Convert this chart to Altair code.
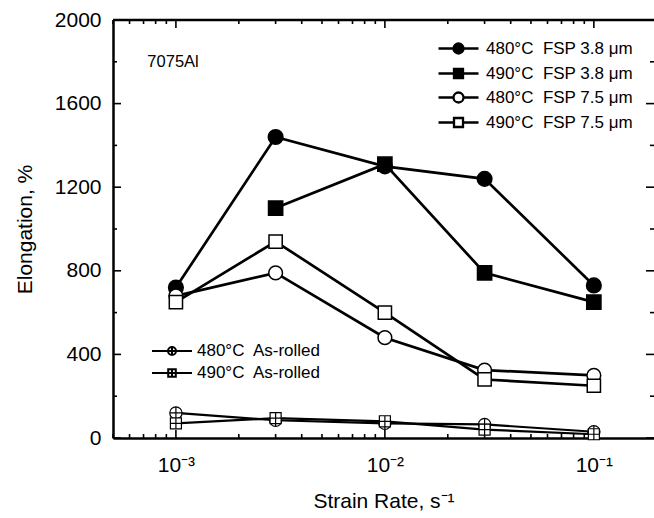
import altair as alt
import pandas as pd

# ---------------- data ----------------
rates = [0.001, 0.003, 0.01, 0.03, 0.1]

fsp_names = ["480°C\u00a0 FSP 3.8 μm", "490°C\u00a0 FSP 3.8 μm",
             "480°C\u00a0 FSP 7.5 μm", "490°C\u00a0 FSP 7.5 μm"]
ar_names = ["480°C\u00a0 As-rolled", "490°C\u00a0 As-rolled"]

e480_fsp38 = [720, 1440, 1300, 1240, 730]
e490_fsp38 = [None, 1100, 1310, 790, 650]
e480_fsp75 = [680, 790, 480, 325, 300]
e490_fsp75 = [650, 940, 600, 280, 250]
e480_ar = [120, 85, 70, 65, 30]
e490_ar = [70, 95, 80, 40, 18]

x_major = [0.001, 0.01, 0.1]
x_minor = [5e-4, 6e-4, 7e-4, 8e-4, 9e-4,
           2e-3, 3e-3, 4e-3, 5e-3, 6e-3, 7e-3, 8e-3, 9e-3,
           2e-2, 3e-2, 4e-2, 5e-2, 6e-2, 7e-2, 8e-2, 9e-2]
y_major = [0, 400, 800, 1200, 1600, 2000]
y_minor = [200, 600, 1000, 1400, 1800]
x_domain = [5e-4, 0.194]
y_domain = [0, 2000]

note_text = ["7075Al"]
note_rate = [7.3e-4]
note_elong = [1800]


def long_table(names, series):
    rows = []
    for name, vals in zip(names, series):
        for r, v in zip(rates, vals):
            if v is not None:
                rows.append({"series": name, "rate": r, "elong": v})
    return pd.DataFrame(rows)


fsp_df = long_table(fsp_names, [e480_fsp38, e490_fsp38, e480_fsp75, e490_fsp75])
ar_df = long_table(ar_names, [e480_ar, e490_ar])

# ---------------- styling ----------------
FONT = "Liberation Sans"
W, H = 541, 418
MAJ, MIN = 8, 4

X = alt.X("rate:Q",
          scale=alt.Scale(type="log", domain=x_domain, nice=False),
          axis=alt.Axis(values=x_major, ticks=False, grid=False,
                        labelExpr="datum.value < 0.005 ? '10⁻³' : (datum.value < 0.05 ? '10⁻²' : '10⁻¹')",
                        labelPadding=16, labelFontSize=21, labelFont=FONT, labelColor="black",
                        domainColor="black", domainWidth=2.5,
                        title="Strain Rate, s⁻¹", titleFontSize=21, titleFont=FONT,
                        titleFontWeight="normal", titleColor="black", titlePadding=15))
Y = alt.Y("elong:Q",
          scale=alt.Scale(domain=y_domain, nice=False),
          axis=alt.Axis(values=y_major, format="d", ticks=False, grid=False,
                        labelPadding=12, labelFontSize=21, labelFont=FONT, labelColor="black",
                        domainColor="black", domainWidth=2.5,
                        title="Elongation, %", titleFontSize=21, titleFont=FONT,
                        titleFontWeight="normal", titleColor="black", titlePadding=19))


def circ(r):
    return f"M{r},0A{r},{r},0,1,1,{-r},0A{r},{r},0,1,1,{r},0Z"


def sq(h):
    return f"M{-h},{-h}H{h}V{h}H{-h}Z"


def cross(h):
    return f"M{-h},0H{h}M0,{-h}V{h}"


def leg(h, body):
    return f"M-2,0H{-h}M{h},0H2" + body


# ---------------- tick marks (inward) ----------------
xt_maj = pd.DataFrame({"rate": x_major})
xt_min = pd.DataFrame({"rate": x_minor})
yt_maj = pd.DataFrame({"elong": y_major})
yt_min = pd.DataFrame({"elong": y_minor})

tick_layers = []
for df, ln in [(xt_maj, MAJ), (xt_min, MIN)]:
    tick_layers.append(alt.Chart(df).mark_rule(color="black", strokeWidth=1.6).encode(
        x=X, y=alt.value(H), y2=alt.value(H - ln)))
    tick_layers.append(alt.Chart(df).mark_rule(color="black", strokeWidth=1.6).encode(
        x=X, y=alt.value(0), y2=alt.value(ln)))
for df, ln in [(yt_maj, MAJ), (yt_min, MIN)]:
    tick_layers.append(alt.Chart(df).mark_rule(color="black", strokeWidth=1.6).encode(
        y=Y, x=alt.value(0), x2=alt.value(ln)))
    tick_layers.append(alt.Chart(df).mark_rule(color="black", strokeWidth=1.6).encode(
        y=Y, x=alt.value(W - ln), x2=alt.value(W)))

top_border = alt.Chart(pd.DataFrame({"rate": [x_domain[0]], "rate2": [x_domain[1]],
                                     "elong": [y_domain[1]]})).mark_rule(
    color="black", strokeWidth=2.5).encode(x=X, x2="rate2:Q", y=Y)

# ---------------- data layers ----------------
fsp_lines = alt.Chart(fsp_df).mark_line(color="black", strokeWidth=2.7).encode(
    x=X, y=Y, detail="series:N")
ar_lines = alt.Chart(ar_df).mark_line(color="black", strokeWidth=2.2).encode(
    x=X, y=Y, detail="series:N")

fsp_points = alt.Chart(fsp_df).mark_point(filled=True, stroke="black", strokeWidth=1.5,
                                          opacity=1).encode(
    x=X, y=Y,
    shape=alt.Shape("series:N", legend=None,
                    scale=alt.Scale(domain=fsp_names, range=["circle", "square", "circle", "square"])),
    fill=alt.Fill("series:N", legend=None,
                  scale=alt.Scale(domain=fsp_names, range=["black", "black", "white", "white"])),
    size=alt.Size("series:N", legend=None,
                  scale=alt.Scale(domain=fsp_names, range=[215, 175, 215, 175])))

ar_points = alt.Chart(ar_df).mark_point(filled=True, fill="white", stroke="black",
                                        strokeWidth=1.2, opacity=1, size=150).encode(
    x=X, y=Y,
    shape=alt.Shape("series:N", legend=None,
                    scale=alt.Scale(domain=ar_names,
                                    range=[circ(1) + cross(1), sq(0.9) + cross(0.9)])))

leg1 = dict(title=None, orient="none", legendX=334, legendY=17,
            symbolSize=400, symbolStrokeWidth=2.3, labelOffset=16,
            rowPadding=3, padding=0, labelFont=FONT, labelFontSize=17,
            labelColor="black", labelLimit=300)

fsp_legend = alt.Chart(fsp_df).transform_filter("false").mark_point(
    filled=True, stroke="black", strokeWidth=2.3, opacity=1).encode(
    x=X, y=Y,
    shape=alt.Shape("series:N",
                    scale=alt.Scale(domain=fsp_names,
                                    range=[leg(0.5, circ(0.5)), leg(0.45, sq(0.45)),
                                           leg(0.5, circ(0.5)), leg(0.45, sq(0.45))]),
                    legend=alt.Legend(**leg1)),
    fill=alt.Fill("series:N",
                  scale=alt.Scale(domain=fsp_names, range=["black", "black", "white", "white"]),
                  legend=alt.Legend(**leg1)))

ar_legend = alt.Chart(ar_df).transform_filter("false").mark_point(
    filled=True, fill="white", stroke="black", strokeWidth=2, opacity=1).encode(
    x=X, y=Y,
    shape=alt.Shape("series:N",
                    scale=alt.Scale(domain=ar_names,
                                    range=[leg(0.4, circ(0.4) + cross(0.4)),
                                           leg(0.38, sq(0.38) + cross(0.38))]),
                    legend=alt.Legend(title=None, orient="none", legendX=48, legendY=320,
                                      symbolSize=400, symbolStrokeWidth=2, labelOffset=14,
                                      rowPadding=3, padding=0, labelFont=FONT, labelFontSize=17,
                                      labelColor="black", labelLimit=300)))

note = alt.Chart(pd.DataFrame({"rate": note_rate, "elong": note_elong, "label": note_text})).mark_text(
    align="left", baseline="middle", font=FONT, fontSize=16.5, color="black").encode(
    x=X, y=Y, text="label:N")

chart = alt.layer(
    *tick_layers, top_border, fsp_lines, ar_lines, fsp_points, ar_points,
    fsp_legend, ar_legend, note
).resolve_scale(
    shape="independent", fill="independent", size="independent"
).properties(
    width=W, height=H,
    autosize=alt.AutoSizeParams(type="none"),
    padding={"left": 113, "top": 20, "right": 0, "bottom": 80},
    background="white",
).configure_view(stroke=None)

chart.save("out.html", embed_options={"renderer": "svg", "actions": False})
